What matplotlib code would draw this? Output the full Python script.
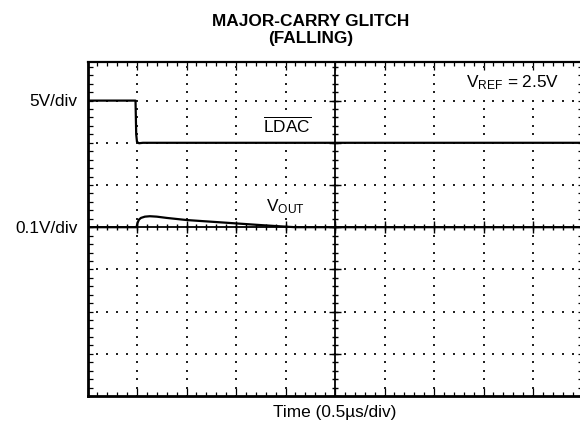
import numpy as np
import matplotlib
matplotlib.use('Agg')
import matplotlib.pyplot as plt

plt.rcParams['font.family'] = ['Liberation Sans', 'DejaVu Sans']
plt.rcParams['mathtext.fontset'] = 'custom'
plt.rcParams['mathtext.rm'] = 'Liberation Sans'
plt.rcParams['mathtext.it'] = 'Liberation Sans'

# scope settings
t_per_div = 0.5      # us/div
ldac_per_div = 5.0   # V/div
vout_per_div = 0.1   # V/div
ldac_ground = 6      # division of the LDAC ground level
vout_ground = 4      # division of the VOUT reference level

# LDAC trace (time in us, volts)
ldac_t = [0.0, 0.485, 0.492, 0.50, 0.52, 0.56, 5.0]
ldac_v = [5.0, 5.0, 1.0, 0.1, -0.05, 0.0, 0.0]

# VOUT trace (time in us, volts)
vout_t = [0.0, 0.495, 0.505, 0.52, 0.54, 0.58, 0.63, 0.70, 0.80, 1.0, 1.25, 1.5, 1.75, 1.95, 2.1, 5.0]
vout_v = [0.0, 0.0, 0.010, 0.018, 0.022, 0.025, 0.026, 0.025, 0.022, 0.017, 0.013, 0.009, 0.005, 0.002, 0.0, 0.0]

W, H = 580, 435
fig = plt.figure(figsize=(W / 100, H / 100), dpi=100)
ax = fig.add_axes([87.5 / W, 38 / H, 495 / W, 334 / H])

ndiv_x = 10
ytop = 334 / 42.2
ax.set_xlim(0, ndiv_x)
ax.set_ylim(0, ytop)

# dotted graticule
minor_x = np.arange(0, ndiv_x + 0.01, 0.2)
minor_y = np.arange(0, ytop, 0.2)
for gy in range(1, 8):
    if gy == 4:
        continue
    ax.plot(minor_x, np.full(len(minor_x), gy), ls='', marker='s', ms=1.5, mew=0, color='#222222')
for gx in range(1, ndiv_x):
    if gx == 5:
        continue
    ax.plot(np.full(len(minor_y), gx), minor_y, ls='', marker='s', ms=1.5, mew=0, color='#222222')

# center axes with crossing ticks
ax.axhline(4, color='k', lw=1.3)
ax.axvline(5, color='k', lw=1.3)
ax.plot(minor_x, np.full(len(minor_x), 4), ls='', marker='|', ms=5, mew=1, color='k')
ax.plot(np.arange(0, ndiv_x + 1), np.full(ndiv_x + 1, 4), ls='', marker='|', ms=9, mew=1, color='k')
ax.plot(np.full(len(minor_y), 5), minor_y, ls='', marker='_', ms=5, mew=1, color='k')
ax.plot(np.full(8, 5), np.arange(0, 8), ls='', marker='_', ms=9, mew=1, color='k')

# traces
ldac_x = np.array(ldac_t) / t_per_div
ldac_y = ldac_ground + np.array(ldac_v) / ldac_per_div
vout_x = np.array(vout_t) / t_per_div
vout_y = vout_ground + np.array(vout_v) / vout_per_div
ax.plot(ldac_x, ldac_y, color='k', lw=1.6, solid_joinstyle='round')
ax.plot(vout_x, vout_y, color='k', lw=1.6, solid_joinstyle='round')

# frame ticks
ax.set_xticks(np.arange(0, ndiv_x + 1))
ax.set_xticks(minor_x, minor=True)
ax.set_yticks(np.arange(0, 8))
ax.set_yticks(minor_y, minor=True)
ax.tick_params(which='both', direction='in', top=True, right=True,
               labelbottom=False, labelleft=False, width=0.9, color='k')
ax.tick_params(axis='x', which='major', length=6)
ax.tick_params(axis='x', which='minor', length=3)
ax.tick_params(axis='y', which='both', length=3.8)
for s in ['left', 'bottom']:
    ax.spines[s].set_linewidth(2)
ax.spines['top'].set_linewidth(1.6)
ax.spines['right'].set_linewidth(1.6)

# labels
fs = 12.4
box = dict(fc='white', ec='none', pad=1)
ax.annotate('5V/div', xy=(0, 7), xytext=(-7, 0), textcoords='offset points',
            ha='right', va='center', fontsize=fs)
ax.annotate('0.1V/div', xy=(0, 4), xytext=(-7, 0), textcoords='offset points',
            ha='right', va='center', fontsize=fs)
fig.text(335 / W, 1 - 413 / H, 'Time (0.5µs/div)', ha='center', va='center', fontsize=fs)
fig.text(311 / W, 1 - 30 / H, 'MAJOR-CARRY GLITCH\n(FALLING)', ha='center', va='center',
         fontsize=fs, fontweight='bold', linespacing=1.1)
fig.text(559 / W, 1 - 87.7 / H, r'$\mathregular{V_{REF}}$ = 2.5V', ha='right', va='baseline',
         fontsize=fs, bbox=box)
fig.text(263 / W, 1 - 132 / H, r'$\mathregular{\overline{LDAC}}$', ha='left', va='baseline',
         fontsize=fs, bbox=box)
fig.text(266 / W, 1 - 211 / H, r'$\mathregular{V_{OUT}}$', ha='left', va='baseline',
         fontsize=fs, bbox=box)

fig.savefig('out.png', dpi=100)
